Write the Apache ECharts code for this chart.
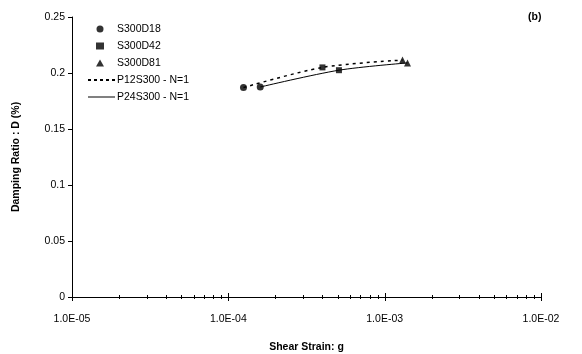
<!DOCTYPE html>
<html><head><meta charset="utf-8">
<script src="https://cdn.jsdelivr.net/npm/echarts@6/dist/echarts.min.js"></script>
<style>html,body{margin:0;padding:0;background:#fff}#c{width:582px;height:354px}</style>
</head><body><div id="c"></div>
<script>
var seriesNames = ['S300D18', 'S300D42', 'S300D81', 'P12S300 - N=1', 'P24S300 - N=1'];
var s300d18 = [[1.25e-4, 0.187], [1.6e-4, 0.1875]];
var s300d42 = [[4.0e-4, 0.205], [5.1e-4, 0.2025]];
var s300d81 = [[1.3e-3, 0.2115], [1.4e-3, 0.209]];
var p12 = [[1.25e-4, 0.187], [4.0e-4, 0.205], [1.3e-3, 0.2115]];
var p24 = [[1.6e-4, 0.1875], [5.1e-4, 0.2025], [1.4e-3, 0.209]];
var xMajorTicks = [1e-5, 1e-4, 1e-3, 1e-2];
var xMinorTicks = [2e-5,3e-5,4e-5,5e-5,6e-5,7e-5,8e-5,9e-5,
                   2e-4,3e-4,4e-4,5e-4,6e-4,7e-4,8e-4,9e-4,
                   2e-3,3e-3,4e-3,5e-3,6e-3,7e-3,8e-3,9e-3];
var xTickLabels = {'-5': '1.0E-05', '-4': '1.0E-04', '-3': '1.0E-03', '-2': '1.0E-02'};

var font = 'Arial, "Liberation Sans", sans-serif';
var fs = 10.5;
function tickSeries(vals, len) {
  return {
    type: 'custom', silent: true, z: 5,
    data: vals.map(function (v) { return [v, 0]; }),
    renderItem: function (params, api) {
      var p = api.coord([api.value(0), 0]);
      var x = Math.round(p[0]) + 0.5;
      return { type: 'line', shape: { x1: x, y1: p[1] - len, x2: x, y2: p[1] + len },
        style: { stroke: '#000', lineWidth: 1 } };
    }
  };
}
var dashIcon = 'path://M0,0h3v2h-3z M6,0h3v2h-3z M12,0h3v2h-3z M18,0h3v2h-3z M24,0h3v2h-3z';
var solidIcon = 'path://M0,0h27v1h-27z';
var chart = echarts.init(document.getElementById('c'));
chart.setOption({
  animation: false,
  backgroundColor: '#fff',
  grid: { left: 72, right: 41, top: 17, bottom: 57, containLabel: false, outerBoundsMode: 'none' },
  legend: [{
    orient: 'vertical', left: 91, top: 18, itemWidth: 8, itemHeight: 7, itemGap: 5,
    data: [{ name: seriesNames[0], icon: 'circle' }, { name: seriesNames[1], icon: 'rect' }, { name: seriesNames[2], icon: 'triangle' }],
    textStyle: { fontFamily: font, fontSize: fs, color: '#000', padding: [0, 0, 0, 8], height: 12, lineHeight: 12 }
  }, {
    orient: 'vertical', left: 83, top: 69, itemWidth: 27, itemHeight: 2, itemGap: 5,
    data: [{ name: seriesNames[3], icon: dashIcon }, { name: seriesNames[4], icon: solidIcon }],
    itemStyle: { color: '#000' },
    textStyle: { fontFamily: font, fontSize: fs, color: '#000', padding: [0, 0, 0, -3], height: 12, lineHeight: 12 }
  }],
  xAxis: {
    type: 'log', min: 1e-5, max: 1e-2, logBase: 10,
    name: 'Shear Strain: g', nameLocation: 'middle', nameGap: 45,
    nameTextStyle: { fontFamily: font, fontSize: fs, fontWeight: 'bold', color: '#000' },
    axisLine: { lineStyle: { color: '#000', width: 1 } },
    axisTick: { show: false },
    splitLine: { show: false },
    axisLabel: { fontFamily: font, fontSize: fs, color: '#000', margin: 17,
      formatter: function (v) { var e = Math.round(Math.log10(v)); return xTickLabels[String(e)] || ''; } }
  },
  yAxis: {
    type: 'value', min: 0, max: 0.25, interval: 0.05,
    name: 'Damping Ratio : D (%)', nameLocation: 'middle', nameGap: 50, nameRotate: 90,
    nameTextStyle: { fontFamily: font, fontSize: fs, fontWeight: 'bold', color: '#000' },
    axisLine: { show: true, lineStyle: { color: '#000', width: 1 } },
    axisTick: { show: true, length: 4, lineStyle: { color: '#000' } },
    splitLine: { show: false },
    axisLabel: { fontFamily: font, fontSize: fs, color: '#000', margin: 7 }
  },
  graphic: [{ type: 'text', left: 528, top: 12, style: { text: '(b)', font: 'bold ' + fs + 'px ' + font, fill: '#000' } }],
  series: [
    { name: seriesNames[0], type: 'scatter', symbol: 'circle', symbolSize: 7, data: s300d18, itemStyle: { color: '#000' }, z: 4 },
    { name: seriesNames[1], type: 'scatter', symbol: 'rect', symbolSize: 6, data: s300d42, itemStyle: { color: '#000' }, z: 4 },
    { name: seriesNames[2], type: 'scatter', symbol: 'triangle', symbolSize: 7, data: s300d81, itemStyle: { color: '#000' }, z: 4 },
    { name: seriesNames[3], type: 'line', smooth: 0.3, symbol: 'none', showSymbol: false, data: p12,
      lineStyle: { color: '#000', width: 1.5, type: [3, 4] }, itemStyle: { color: '#000' }, z: 3 },
    { name: seriesNames[4], type: 'line', smooth: 0.3, symbol: 'none', showSymbol: false, data: p24,
      lineStyle: { color: '#000', width: 1 }, itemStyle: { color: '#000' }, z: 3 },
    tickSeries(xMajorTicks, 4),
    tickSeries(xMinorTicks, 2)
  ]
});
</script></body></html>
